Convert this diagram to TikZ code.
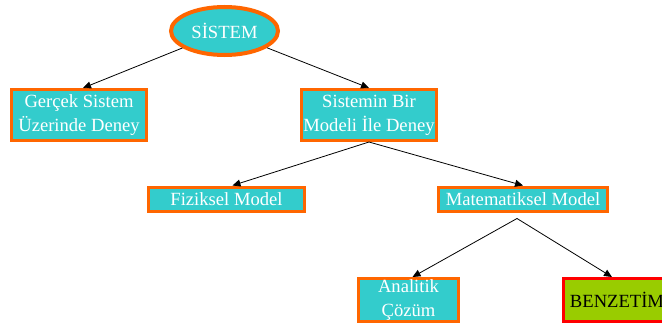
\documentclass[tikz,border=0pt]{standalone}
\usepackage{fontspec}
\setmainfont{Liberation Serif}
\usetikzlibrary{arrows.meta,shapes.geometric}
\definecolor{teal1}{HTML}{33CCCC}
\definecolor{orng}{HTML}{FF6600}
\definecolor{lime1}{HTML}{99CC00}
\definecolor{red1}{HTML}{FF0000}
\tikzset{
  box/.style={rectangle, draw=orng, fill=teal1, line width=3pt, inner sep=0pt,
    text=white, align=center, font=\fontsize{18.6}{24}\selectfont},
  simbox/.style={box, draw=red1, fill=lime1, text=black},
  arr/.style={draw=black, line width=0.8pt, -{Triangle[length=8pt,width=7pt]}},
}
\begin{document}
\begin{tikzpicture}[x=1pt,y=-1pt]
\useasboundingbox (0,0) rectangle (662,324);
\node[ellipse, draw=orng, fill=teal1, line width=4pt, inner sep=0pt,
  minimum width=107pt, minimum height=48pt, text=white,
  font=\fontsize{18.6}{24}\selectfont] (s) at (224.5,31) {SİSTEM};
\node[box, minimum width=135pt, minimum height=51pt] (g) at (79,115) {Gerçek Sistem\\Üzerinde Deney};
\node[box, minimum width=135pt, minimum height=51pt] (m) at (369,115) {Sistemin Bir\\Modeli İle Deney};
\node[box, minimum width=156pt, minimum height=24pt] (f) at (226.5,199) {Fiziksel Model};
\node[box, minimum width=169pt, minimum height=24pt] (mm) at (523,199) {Matematiksel Model};
\node[box, minimum width=100pt, minimum height=43pt] (a) at (408.5,300) {Analitik\\Çözüm};
\node[simbox, minimum width=107pt, minimum height=43pt] (b) at (617,300) {BENZETİM};
\draw[arr] (s) -- ([xshift=4pt]g.north);
\draw[arr] (s) -- (m.north);
\draw[arr] (m.south) -- ([xshift=6pt]f.north);
\draw[arr] (m.south) -- (mm.north);
\draw[arr] ([xshift=-6pt,yshift=-6pt]mm.south) -- ([xshift=4pt]a.north);
\draw[arr] ([xshift=-6pt,yshift=-6pt]mm.south) -- ([xshift=-5pt]b.north);
\end{tikzpicture}
\end{document}
